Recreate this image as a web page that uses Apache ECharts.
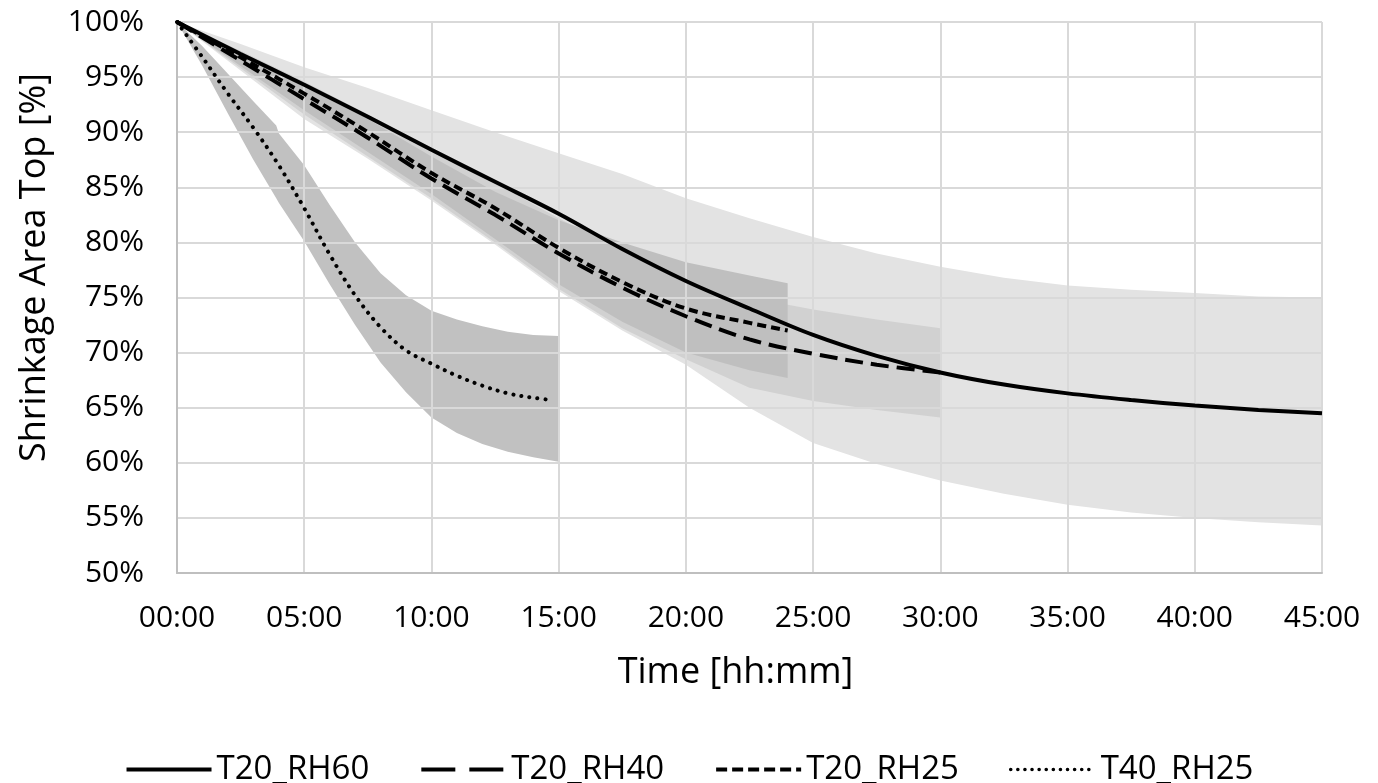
<!DOCTYPE html>
<html>
<head>
<meta charset="utf-8">
<script src="https://cdn.jsdelivr.net/npm/echarts@6/dist/echarts.min.js"></script>
<style>html,body{margin:0;padding:0;background:#fff}#chart{width:1378px;height:783px}</style>
</head>
<body>
<div id="chart"></div>
<script>
// ---- data (hours, % of initial area) ----
const tRH60 = [0,2.5,5,7.5,10,12.5,15,17.5,20,22.5,25,27.5,30,32.5,35,37.5,40,42.5,45];
const rh60 = [100,97.1,94.3,91.4,88.4,85.5,82.6,79.4,76.5,74.0,71.6,69.7,68.2,67.1,66.3,65.7,65.2,64.8,64.5];
const rh60Hi = [100,98.0,95.9,94.0,92.0,90.0,88.1,86.2,84.0,82.2,80.5,79.0,77.8,76.8,76.1,75.7,75.4,75.1,75.0];
const rh60Lo = [100,95.6,91.2,87.6,83.8,79.8,75.6,72.0,68.9,65.0,61.8,59.9,58.4,57.2,56.2,55.5,55.0,54.6,54.3];

const tRH40 = [0,2.5,5,7.5,10,12.5,15,17.5,20,22.5,25,27.5,30];
const rh40 = [100,96.5,93.0,89.5,85.8,82.5,79.0,75.9,73.3,71.2,69.9,68.9,68.2];
const rh40Hi = [100,97.4,94.6,91.6,88.6,85.4,82.2,79.2,76.8,75.0,73.9,73.0,72.2];
const rh40Lo = [100,95.8,91.6,87.8,84.0,80.0,75.8,72.2,69.4,66.8,65.6,64.8,64.1];

const tRH25 = [0,2.5,5,7.5,10,12.5,15,17.5,20,22.5,24];
const rh25 = [100,96.8,93.5,90.0,86.3,83.1,79.5,76.4,74.0,72.7,72.0];
const rh25Hi = [100,97.3,94.4,91.2,87.8,84.6,82.0,80.0,78.2,77.0,76.3];
const rh25Lo = [100,96.0,92.0,88.2,84.4,80.3,76.2,72.8,70.0,68.4,67.7];

const tT40 = [0,1,2,3,4,5,6,7,8,9,10,11,12,13,14,14.7];
const t40 = [100,96.8,93.5,90.4,87.0,83.1,78.9,75.2,72.3,70.2,69.0,67.9,67.0,66.3,65.9,65.7];
const tT40Band = [0,1,2,3,3.9,4,5,6,7,8,9,10,11,12,13,14,15];
const t40Hi = [100,97.8,95.3,92.8,90.6,89.9,87.0,83.4,80.0,77.2,75.2,73.8,73.0,72.4,71.9,71.6,71.5];
const t40Lo = [100,96.0,91.7,87.5,84.0,83.6,80.1,76.2,72.5,69.1,66.4,64.1,62.7,61.7,61.0,60.5,60.1];

const names = ['T20_RH60', 'T20_RH40', 'T20_RH25', 'T40_RH25'];

// ---- build options ----
function pairs(t, v) { return t.map((x, i) => [x, v[i]]); }
function band(t, lo, hi, color) {
  return {
    type: 'custom', silent: true, z: 1, clip: true,
    data: t.map((x, i) => [x, lo[i], hi[i]]),
    encode: { x: 0, y: [1, 2] },
    renderItem: function (params, api) {
      if (params.dataIndex !== 0) return null;
      const pts = [];
      for (let i = 0; i < t.length; i++) pts.push(api.coord([t[i], hi[i]]));
      for (let i = t.length - 1; i >= 0; i--) pts.push(api.coord([t[i], lo[i]]));
      return { type: 'polygon', shape: { points: pts }, style: { fill: color, stroke: null } };
    }
  };
}
function line(name, t, v, type, width, cap) {
  return { type: 'line', name: name, data: pairs(t, v), symbol: 'none', z: 5,
    smooth: 0.35,
    lineStyle: { color: '#000', width: width, type: type, cap: cap || 'butt' },
    itemStyle: { color: '#000', opacity: 0 } };
}

const series = [
  band(tRH60, rh60Lo, rh60Hi, '#e3e3e3'),
  band(tRH40, rh40Lo, rh40Hi, '#d1d1d1'),
  band(tRH25, rh25Lo, rh25Hi, '#bfbfbf'),
  band(tT40Band, t40Lo, t40Hi, '#c1c1c1'),
  line(names[0], tRH60, rh60, 'solid', 4),
  line(names[1], tRH40, rh40, [18, 8], 4),
  line(names[2], tRH25, rh25, [9, 5], 4),
  line(names[3], tT40, t40, [0.1, 8], 4, 'round')
];

const font = 'Open Sans';
const chart = echarts.init(document.getElementById('chart'), null, { renderer: 'canvas' });
chart.setOption({
  animation: false,
  backgroundColor: '#fff',
  grid: { left: 177, right: 56, top: 22, bottom: 210, containLabel: false },
  xAxis: {
    type: 'value', min: 0, max: 45, interval: 5, z: 3,
    name: 'Time [hh:mm]', nameLocation: 'middle', nameGap: 82,
    nameTextStyle: { fontFamily: font, fontSize: 36, color: '#000', padding: [0, 28, 0, 0] },
    axisLine: { show: true, lineStyle: { color: '#bfbfbf', width: 2 } },
    axisTick: { show: false },
    axisLabel: { fontFamily: font, fontSize: 30, color: '#000', margin: 30,
      formatter: v => (v < 10 ? '0' : '') + v + ':00' },
    splitLine: { show: true, lineStyle: { color: '#d9d9d9', width: 2 } }
  },
  yAxis: {
    type: 'value', min: 50, max: 100, interval: 5, z: 3,
    name: 'Shrinkage Area Top [%]', nameLocation: 'middle', nameGap: 124,
    nameTextStyle: { fontFamily: font, fontSize: 36, color: '#000', padding: [0, 0, 0, 60] },
    axisLine: { show: true, lineStyle: { color: '#bfbfbf', width: 2 } },
    axisTick: { show: false },
    axisLabel: { fontFamily: font, fontSize: 30, color: '#000', margin: 33, formatter: '{value}%' },
    splitLine: { show: true, lineStyle: { color: '#d9d9d9', width: 2 } }
  },
  legend: {
    data: [
      { name: names[0] },
      { name: names[1], lineStyle: { type: [34, 14] } },
      { name: names[2], lineStyle: { type: [11, 5] } },
      { name: names[3], lineStyle: { type: [0.1, 7], cap: 'round', width: 3.5 } }
    ],
    left: 'center', top: 748, itemWidth: 85, itemHeight: 20, itemGap: 50,
    itemStyle: { opacity: 0 },
    lineStyle: { width: 4 },
    textStyle: { fontFamily: font, fontSize: 33, color: '#000' }
  },
  series: series
});
</script>
</body>
</html>
